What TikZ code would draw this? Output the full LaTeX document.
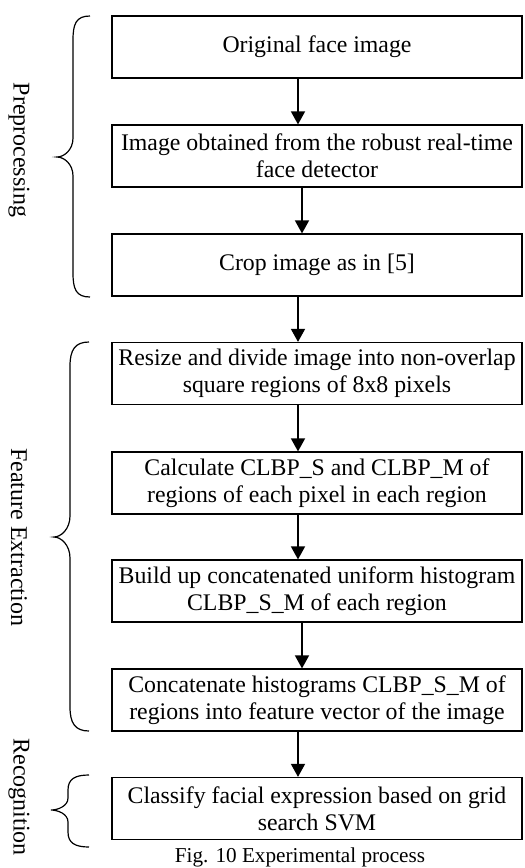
\documentclass[tikz,border=0pt]{standalone}
\usepackage{fontspec}
\setmainfont{Liberation Serif}
\usetikzlibrary{arrows.meta}
\begin{document}
\begin{tikzpicture}[x=1pt,y=-1pt,
  stepbox/.style={draw,line width=1.2pt,minimum width=410pt,minimum height=62pt,
    inner sep=0pt,align=center,font=\fontsize{23.8}{27.2}\selectfont},
  flow/.style={line width=1.6pt,-{Triangle[length=13pt,width=14pt]}},
  bracepath/.style={line width=1.2pt},
  sidelabel/.style={rotate=-90,font=\fontsize{24}{28}\selectfont},
]
\useasboundingbox (0,0) rectangle (525,868);

% process steps
\node[stepbox] (b1) at (317,47)    {Original face image};
\node[stepbox] (b2) at (317,156)   {Image obtained from the robust real-time\\face detector};
\node[stepbox] (b3) at (317,265)   {Crop image as in [5]};
\node[stepbox] (b4) at (317,373.5) {Resize and divide image into non-overlap\\square regions of 8x8 pixels};
\node[stepbox] (b5) at (317,483)   {Calculate CLBP\_S and CLBP\_M of\\regions of each pixel in each region};
\node[stepbox] (b6) at (317,591)   {Build up concatenated uniform histogram\\CLBP\_S\_M of each region};
\node[stepbox] (b7) at (317,700)   {Concatenate histograms CLBP\_S\_M of\\regions into feature vector of the image};
\node[stepbox] (b8) at (317,808.5) {Classify facial expression based on grid\\search SVM};

% arrow columns
\coordinate (ax) at (298,0);
\coordinate (bx) at (302,0);

\draw[flow] (b1.south -| ax) -- (b2.north -| ax);
\draw[flow] (b2.south -| bx) -- (b3.north -| bx);
\draw[flow] (b3.south -| ax) -- (b4.north -| ax);
\draw[flow] (b4.south -| ax) -- (b5.north -| ax);
\draw[flow] (b5.south -| ax) -- (b6.north -| ax);
\draw[flow] (b6.south -| bx) -- (b7.north -| bx);
\draw[flow] (b7.south -| ax) -- (b8.north -| ax);

% stage braces
\draw[bracepath] (90,16) .. controls (76,16) and (73,24) .. (73,40)
  -- (73,138) .. controls (73,150) and (64,157) .. (57,157)
  .. controls (64,157) and (73,164) .. (73,176)
  -- (73,273) .. controls (73,289) and (76,297) .. (90,297);
\draw[bracepath] (89,342) .. controls (75,342) and (70,350) .. (70,366)
  -- (70,516) .. controls (70,529) and (61,537) .. (54,537)
  .. controls (61,537) and (70,545) .. (70,558)
  -- (70,707) .. controls (70,723) and (75,731) .. (89,731);
\draw[bracepath] (89,775) .. controls (75,775) and (68,779) .. (68,790)
  -- (68,798) .. controls (68,806) and (58,810) .. (51,810)
  .. controls (58,810) and (68,814) .. (68,822)
  -- (68,832) .. controls (68,843) and (75,847) .. (89,847);

% stage labels
\node[sidelabel] (l1) at (19,150) {Preprocessing};
\node[sidelabel] (l2) at (19,537) {Feature Extraction};
\node[sidelabel] (l3) at (19,797) {Recognition};

% caption
\node[font=\fontsize{21.2}{24}\selectfont] (cap) at (300,857) {Fig. 10 Experimental process};
\end{tikzpicture}
\end{document}
